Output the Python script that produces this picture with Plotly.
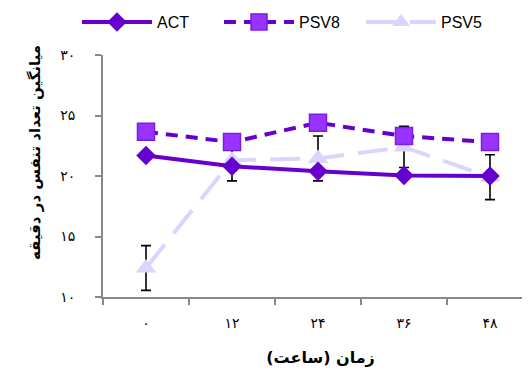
import plotly.graph_objects as go

categories = ["۰", "۱۲", "۲۴", "۳۶", "۴۸"]
act = [21.7, 20.8, 20.4, 20.05, 20.0]
psv8 = [23.65, 22.8, 24.4, 23.3, 22.8]
psv5 = [12.4, 21.3, 21.45, 22.4, 19.9]
psv5_err = [1.85, 1.7, 1.85, 1.7, 1.85]
y_ticks = [10, 15, 20, 25, 30]
y_tick_labels = ["۱۰", "۱۵", "۲۰", "۲۵", "۳۰"]

dark = "#6600CC"
light = "#DCD4FF"
persian_font = "DejaVu Sans"

# page body has an 8px margin; plot area placed to compensate
L, T, PH, PW = 95, 47, 242, 435

fig = go.Figure()
fig.add_trace(go.Scatter(
    x=categories, y=psv5, name="PSV5", mode="lines+markers", legendrank=3,
    line=dict(color=light, width=4, dash="30px,14px"),
    marker=dict(symbol="triangle-up", size=18, color=light),
    error_y=dict(type="data", array=psv5_err, visible=True, color="black",
                 thickness=1.6, width=5),
))
fig.add_trace(go.Scatter(
    x=categories, y=act, name="ACT", mode="lines+markers", legendrank=1,
    line=dict(color=dark, width=4),
    marker=dict(symbol="diamond", size=15, color=dark),
))
fig.add_trace(go.Scatter(
    x=categories, y=psv8, name="PSV8", mode="lines+markers", legendrank=2,
    line=dict(color=dark, width=4, dash="12px,8px"),
    marker=dict(symbol="square", size=17, color="#9933FF",
                line=dict(color="#7A1FE0", width=1.5)),
))

fig.update_layout(
    width=530, height=374,
    margin=dict(l=L, r=530 - L - PW, t=T, b=374 - T - PH, autoexpand=False),
    plot_bgcolor="white", paper_bgcolor="white",
    showlegend=True,
    legend=dict(orientation="h", x=69 / 530, xref="container", xanchor="left",
                y=1 - 14 / 374, yanchor="middle", yref="container",
                itemwidth=70, entrywidth=57, entrywidthmode="pixels",
                font=dict(family="Liberation Sans", size=16, color="black"),
                traceorder="normal"),
    xaxis=dict(
        type="category", range=[-0.5, -0.5 + PW / 86], automargin=False,
        showline=True, linecolor="#888888", linewidth=2,
        ticks="outside", tickson="boundaries", ticklen=6, tickcolor="#888888", tickwidth=2,
        showgrid=False, zeroline=False,
        tickfont=dict(family=persian_font, size=14, color="black"),
        ticklabelstandoff=12,
        title=dict(text="<b>زمان (ساعت)</b>", font=dict(family=persian_font, size=16, color="black"),
                   standoff=22),
    ),
    yaxis=dict(
        range=[10, 30], tickvals=y_ticks, ticktext=y_tick_labels, automargin=False,
        showline=True, linecolor="#888888", linewidth=2,
        ticks="outside", ticklen=6, tickcolor="#888888", tickwidth=2,
        showgrid=False, zeroline=False,
        tickfont=dict(family=persian_font, size=14, color="black"),
        ticklabelstandoff=17,
    ),
    annotations=[dict(
        text="<b>میانگین تعداد تنفس در دقیقه</b>", textangle=-90,
        xref="paper", yref="paper", x=(27 - L) / PW, y=(T + PH - 145) / PH,
        xanchor="center", yanchor="middle", showarrow=False,
        font=dict(family=persian_font, size=15, color="black"),
    )],
)

fig.write_html("out.html")
